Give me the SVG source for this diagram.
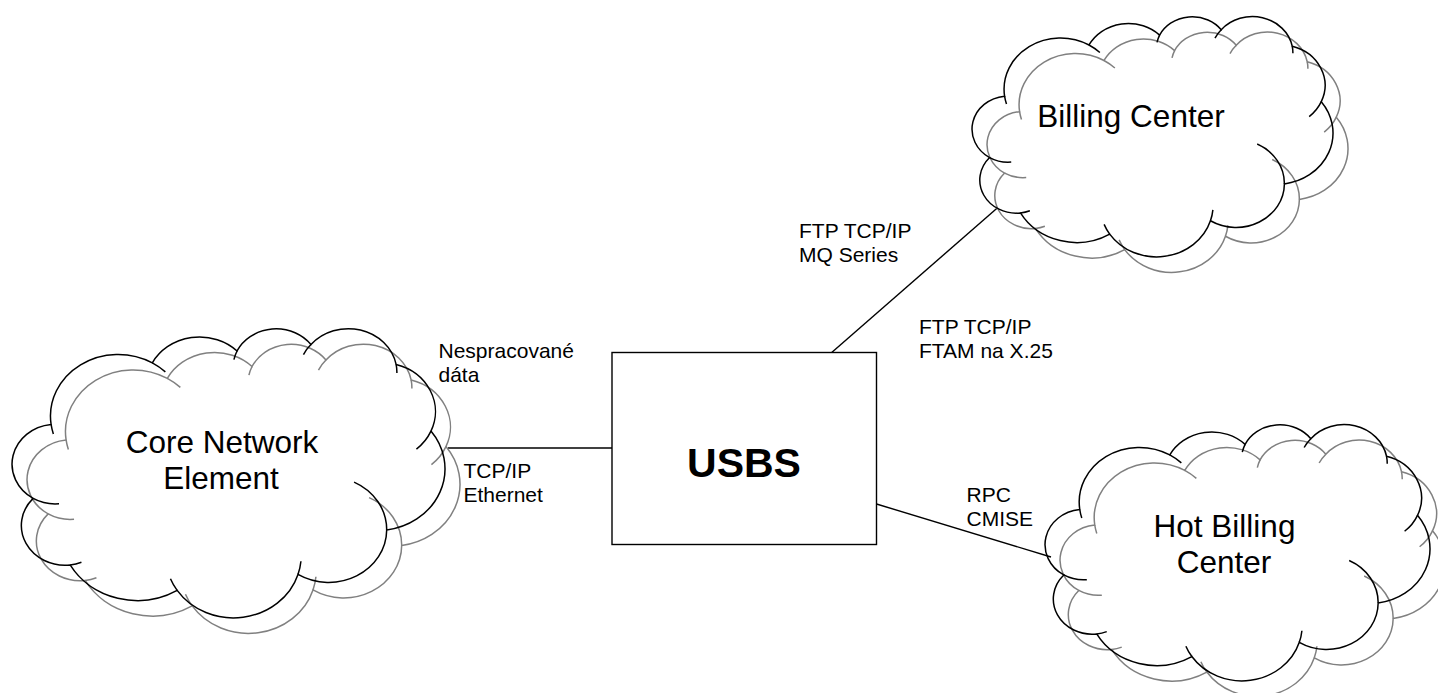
<svg xmlns="http://www.w3.org/2000/svg" xmlns:xlink="http://www.w3.org/1999/xlink" width="1438" height="693" viewBox="0 0 1438 693">
<style>
  .ol{fill:none;stroke:#000;stroke-width:1.5}
  .sh{fill:none;stroke:#808080;stroke-width:1.5}
  text{font-family:"Liberation Sans",Arial,sans-serif;fill:#000}
  .lbl{font-size:21px}
  .big{font-size:31.5px;text-anchor:middle}
  .title{font-size:41px;font-weight:bold;text-anchor:middle}
  .conn line{stroke:#000;stroke-width:1.4}
  .box{fill:#fff;stroke:#000;stroke-width:1.4}
</style>
<defs>
  <g id="cloud">
    <path vector-effect="non-scaling-stroke" d="M3900,14370 A6753,9190 0 0 1 14000,5192 A5333,7267 0 0 1 22452,3423 A4365,5945 0 0 1 29828,2469 A4857,6595 0 0 1 38324,5426 A5333,7273 0 0 1 41798,15354 A6775,9220 0 0 1 37383,30095 A5785,7867 0 0 1 28534,36705 A6752,9215 0 0 1 16478,39090 A7720,10543 0 0 1 5801,35295 A4360,5918 0 0 1 2108,25376 A4345,5945 0 0 1 3900,14370 Z"/>
    <path vector-effect="non-scaling-stroke" d="M4693,26177 A4345,5945 0 0 1 2108,25376 M6928,34899 A4360,5918 0 0 1 5801,35295 M16478,39090 A6752,9215 0 0 1 15810,37348 M28827,34751 A6752,9215 0 0 1 28534,36705 M34129,22954 A5785,7867 0 0 1 37383,30095 M41798,15354 A5333,7273 0 0 1 40350,18030 M38324,5426 A4857,6595 0 0 1 38400,6689 M29078,3952 A4857,6595 0 0 1 29828,2469 M22141,4720 A4365,5945 0 0 1 22452,3423 M14000,5192 A6753,9190 0 0 1 15300,6541 M4127,15789 A6753,9190 0 0 1 3900,14370"/>
  </g>
</defs>

<g id="connectors" class="conn">
  <line x1="448" y1="448" x2="612" y2="448"/>
  <line x1="831.7" y1="352.5" x2="996.7" y2="208.5"/>
  <line x1="876.5" y1="504" x2="1051" y2="557"/>
</g>

<g id="core-network-element">
  <use xlink:href="#cloud" class="sh" transform="translate(27,343.5) scale(0.0100231,0.0067130)"/>
  <use xlink:href="#cloud" class="ol" transform="translate(12,328) scale(0.0100231,0.0067130)"/>
  <text class="big" x="222" y="453.3">Core Network</text>
  <text class="big" x="221" y="489.3">Element</text>
</g>

<g id="billing-center">
  <use xlink:href="#cloud" class="sh" transform="translate(987,31.5) scale(0.0083565,0.0055787)"/>
  <use xlink:href="#cloud" class="ol" transform="translate(972,16) scale(0.0083565,0.0055787)"/>
  <text class="big" x="1131" y="126.7">Billing Center</text>
</g>

<g id="hot-billing-center">
  <use xlink:href="#cloud" class="sh" transform="translate(1060,439.5) scale(0.0089120,0.0059491)"/>
  <use xlink:href="#cloud" class="ol" transform="translate(1045,424) scale(0.0089120,0.0059491)"/>
  <text class="big" x="1224.5" y="537.3">Hot Billing</text>
  <text class="big" x="1224" y="573.3">Center</text>
</g>

<g id="usbs">
  <rect class="box" x="612" y="352.5" width="264.5" height="192"/>
  <text class="title" x="744" y="476.7">USBS</text>
</g>

<g id="labels">
  <text class="lbl" x="438.5" y="358.3">Nespracované</text>
  <text class="lbl" x="438.5" y="382.3">dáta</text>
  <text class="lbl" x="463.5" y="477.7">TCP/IP</text>
  <text class="lbl" x="463.5" y="501.7">Ethernet</text>
  <text class="lbl" x="799" y="237.7">FTP TCP/IP</text>
  <text class="lbl" x="799" y="261.7">MQ Series</text>
  <text class="lbl" x="919" y="334">FTP TCP/IP</text>
  <text class="lbl" x="919" y="358">FTAM na X.25</text>
  <text class="lbl" x="966.5" y="501.7">RPC</text>
  <text class="lbl" x="966.5" y="526">CMISE</text>
</g>
</svg>
